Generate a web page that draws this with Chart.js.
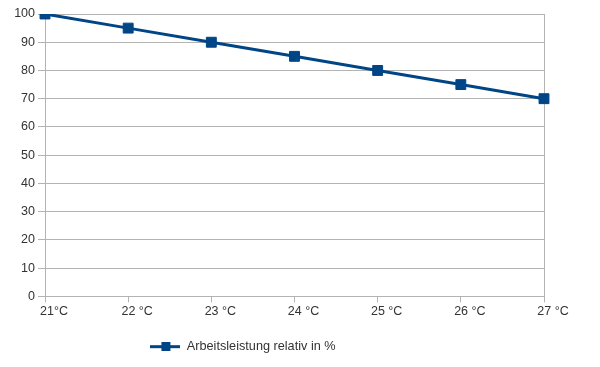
<!DOCTYPE html>
<html>
<head>
<meta charset="utf-8">
<script src="https://cdn.jsdelivr.net/npm/chart.js@4"></script>
<style>
  html, body { margin: 0; padding: 0; background: #fff; }
  #wrap { width: 600px; height: 367px; }
</style>
</head>
<body>
<div id="wrap"><canvas id="chart"></canvas></div>
<script>
const categories = ["21°C", "22 °C", "23 °C", "24 °C", "25 °C", "26 °C", "27 °C"];
const leistung = [100, 95, 90, 85, 80, 75, 70];
const seriesName = "Arbeitsleistung relativ in %";

const blue = "#004586";
const gridCol = "#b3b3b3";

// legend symbol: line with a square in the middle
let sym = document.createElement("canvas");
sym.width = 30; sym.height = 9;
let sc = sym.getContext("2d");
sc.fillStyle = blue;
sc.fillRect(0, 3, 30, 3);
sc.fillRect(11, 0, 9, 9);

Chart.defaults.font.family = "'Liberation Sans', Arial, sans-serif";
Chart.defaults.font.size = 12;
Chart.defaults.color = "#333";

// the legend sits a bit left of centre in the original
const legendShift = {
  id: 'legendShift',
  afterLayout(chart) {
    if (chart.legend) chart.legend.right -= 58;
  }
};

new Chart(document.getElementById("chart"), {
  type: 'line',
  data: {
    labels: categories,
    datasets: [{
      label: seriesName,
      data: leistung,
      borderColor: blue,
      backgroundColor: blue,
      borderWidth: 3,
      pointStyle: 'rect',
      pointRadius: 7,
      pointBorderWidth: 1,
      pointHoverRadius: 7,
      tension: 0
    }]
  },
  options: {
    responsive: true,
    maintainAspectRatio: false,
    animation: false,
    layout: { padding: { left: 0, right: 56, top: 14, bottom: 4 } },
    scales: {
      x: {
        offset: false,
        grid: {
          color: c => c.index === categories.length - 1 ? gridCol : 'rgba(0,0,0,0)',
          tickColor: gridCol,
          tickLength: 6
        },
        border: { color: gridCol },
        ticks: { padding: 2, maxRotation: 0, labelOffset: 9, font: { size: 12.5 } },
        afterFit: s => { s.height = 34; }
      },
      y: {
        min: 0,
        max: 100,
        ticks: { stepSize: 10, padding: 3, font: { size: 12.5 } },
        grid: { color: gridCol, tickColor: gridCol, tickLength: 7 },
        border: { color: gridCol },
        afterFit: s => { s.width = 45; }
      }
    },
    plugins: {
      legend: {
        position: 'bottom',
        labels: {
          usePointStyle: true,
          pointStyle: sym,
          pointStyleWidth: 30,
          boxHeight: 9,
          padding: 10,
          font: { size: 12.7 }
        }
      },
      tooltip: { enabled: false }
    }
  },
  plugins: [legendShift]
});
</script>
</body>
</html>
